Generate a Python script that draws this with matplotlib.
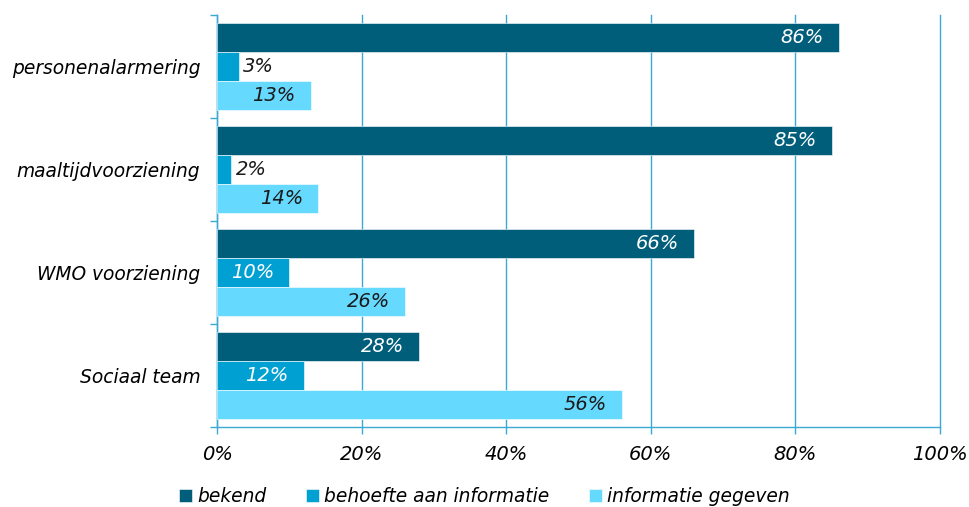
import matplotlib.pyplot as plt
from matplotlib.ticker import FixedLocator, PercentFormatter
import numpy as np

plt.rcParams['font.family'] = ['DejaVu Sans']
plt.rcParams['font.style'] = 'italic'

categories = ['personenalarmering', 'maaltijdvoorziening', 'WMO voorziening', 'Sociaal team']
series = ['bekend', 'behoefte aan informatie', 'informatie gegeven']
bekend = [86, 85, 66, 28]
behoefte = [3, 2, 10, 12]
gegeven = [13, 14, 26, 56]
colors = ['#005E7A', '#00A0D2', '#66D9FF']
text_colors = ['white', 'white', '#1a1a1a']

axis_blue = '#3AAAD4'

fig = plt.figure(figsize=(9.69, 5.07), dpi=100)
ax = fig.add_axes([217 / 969, 1 - 427 / 507, 723 / 969, 412 / 507])

y = np.arange(len(categories))
offsets = [-0.28, 0.0, 0.28]
height = 0.275

for values, off, col, tcol, name in zip([bekend, behoefte, gegeven], offsets,
                                        colors, text_colors, series):
    bars = ax.barh(y + off, values, height=height, color=col, label=name,
                   edgecolor='white', linewidth=0.4, zorder=3)
    for bar, v in zip(bars, values):
        yc = bar.get_y() + bar.get_height() / 2
        if v < 5:
            ax.annotate(f'{v}%', (v, yc), xytext=(3, 0), textcoords='offset points',
                        ha='left', va='center', color='#1a1a1a', fontsize=14, zorder=4)
        else:
            ax.annotate(f'{v}%', (v, yc), xytext=(-11, 0), textcoords='offset points',
                        ha='right', va='center', color=tcol, fontsize=14, zorder=4)

ax.set_xlim(0, 100)
ax.set_ylim(3.5, -0.5)
ax.xaxis.set_major_locator(FixedLocator([0, 20, 40, 60, 80, 100]))
ax.xaxis.set_major_formatter(PercentFormatter(decimals=0))
ax.grid(axis='x', color=axis_blue, linewidth=1, zorder=0)
for line in ax.get_xgridlines():
    line.set_clip_on(False)

ax.set_yticks(y)
ax.set_yticklabels(categories)
ax.yaxis.set_minor_locator(FixedLocator([-0.5, 0.5, 1.5, 2.5, 3.5]))
ax.tick_params(axis='y', which='major', length=0, pad=12, labelsize=13.4)
ax.tick_params(axis='y', which='minor', length=5, color=axis_blue, width=1)
ax.tick_params(axis='x', which='major', length=5, color=axis_blue, width=1,
               pad=8, labelsize=14)

for side in ['top', 'right']:
    ax.spines[side].set_visible(False)
for side in ['left', 'bottom']:
    ax.spines[side].set_color(axis_blue)
    ax.spines[side].set_linewidth(1)

fig.legend(loc='center', bbox_to_anchor=(0.5, 0.02), ncol=3, frameon=False,
           fontsize=13.4, handlelength=0.7, handleheight=0.7, handletextpad=0.3,
           columnspacing=2.1)

fig.savefig('out.png', dpi=100)
